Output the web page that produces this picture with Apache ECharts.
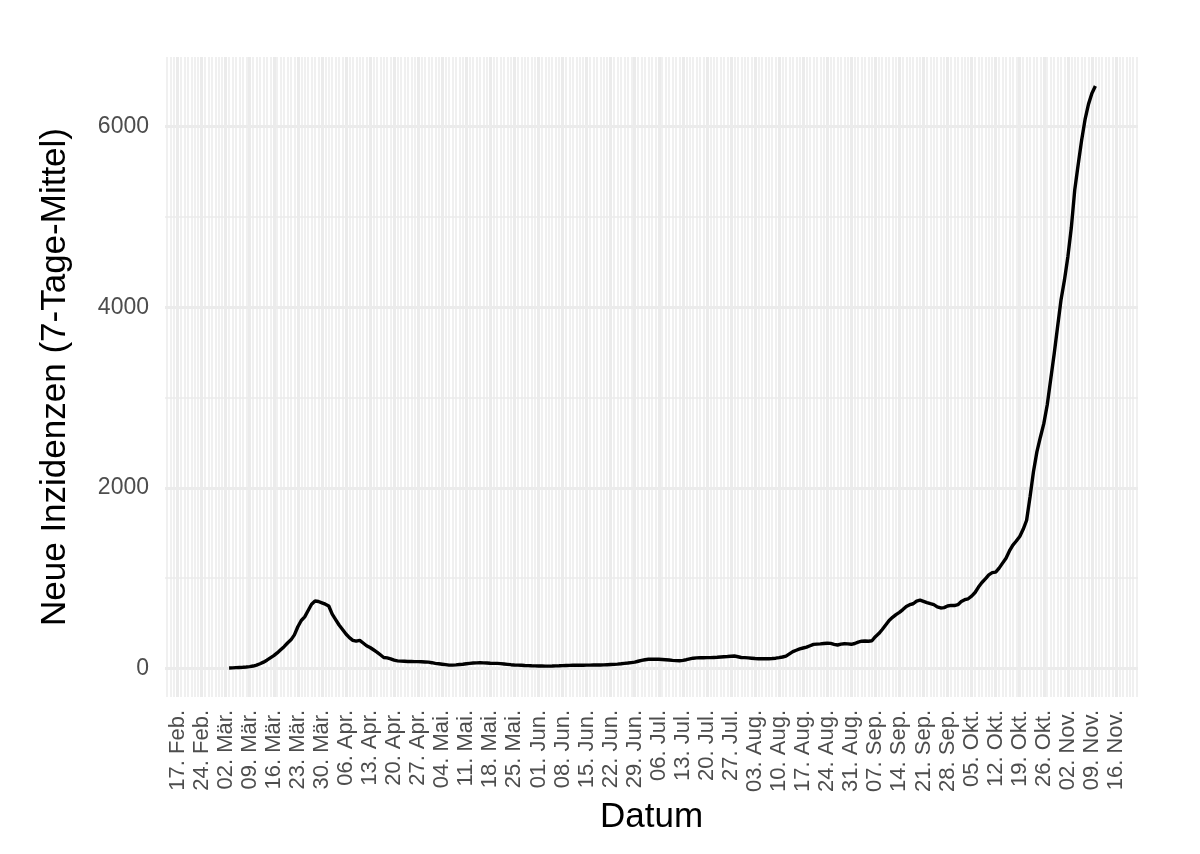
<!DOCTYPE html>
<html><head><meta charset="utf-8">
<script src="https://cdn.jsdelivr.net/npm/echarts@6/dist/echarts.min.js"></script>
<style>html,body{margin:0;padding:0;background:#fff}#c{width:1200px;height:854px}</style>
</head><body><div id="c"></div>
<script>
// ---- data ----
const startDate = '2020-03-03'; // first day with a 7-day mean
const values = [
4,5,7,9,11,14,18,25,35,50,68,90,115,140,170,205,240,280,315,370,
460,530,570,640,710,745,740,725,710,690,600,540,480,430,380,340,310,300,310,280,
250,230,205,180,150,120,115,105,90,82,80,78,76,75,74,74,72,70,68,62,
55,50,45,40,35,35,38,42,45,50,55,58,60,62,60,58,56,55,54,52,
48,44,40,37,35,33,31,30,28,27,26,25,24,24,25,27,28,30,31,32,
33,33,34,34,35,35,36,36,37,38,40,42,44,46,50,55,58,63,68,78,
88,95,100,102,100,100,98,95,92,88,85,83,88,95,105,112,115,116,117,118,
118,120,122,125,128,130,133,136,128,120,118,115,112,108,106,105,105,106,108,112,
118,125,135,160,185,200,215,225,235,250,265,268,270,275,278,276,265,258,268,272,
270,266,275,290,300,302,300,305,350,385,430,480,530,565,595,620,650,685,705,715,
745,756,742,728,716,705,680,668,672,690,697,695,705,740,760,770,800,840,900,950,
990,1035,1060,1066,1110,1165,1220,1300,1365,1410,1460,1540,1640,1900,2180,2400,2560,2710,2920,3200,
3480,3780,4080,4300,4560,4880,5300,5580,5850,6080,6250,6370,6450
];
const weekTickFirst = '2020-02-17';
const weekTickLast = '2020-11-16';
const monthNames = ['Jan.','Feb.','Mär.','Apr.','Mai.','Jun.','Jul.','Aug.','Sep.','Okt.','Nov.','Dez.'];
const yTicks = [0, 2000, 4000, 6000];
const yMinorTicks = [1000, 3000, 5000];

// ---- helpers ----
const DAY = 86400000;
const origin = Date.UTC(2020, 1, 13);
const dayOf = s => (Date.parse(s + 'T00:00:00Z') - origin) / DAY;
const xMin = 0.36, xMax = 283.4;
const yMin = -318, yMax = 6772;

const weekTicks = [];
for (let d = dayOf(weekTickFirst); d <= dayOf(weekTickLast); d += 7) weekTicks.push(d);
const dayTicks = [];
for (let d = Math.ceil(xMin); d <= xMax; d++) dayTicks.push(d);

const s0 = dayOf(startDate);
const seriesData = values.map((v, i) => [s0 + i, v]);

const fmt = v => {
  const dt = new Date(origin + Math.round(v) * DAY);
  const dd = String(dt.getUTCDate()).padStart(2, '0');
  return dd + '. ' + monthNames[dt.getUTCMonth()];
};

const FONT = '"Liberation Sans", Arial, Helvetica, sans-serif';
const GRID = '#EBEBEB';

const chart = echarts.init(document.getElementById('c'), null, {renderer: 'canvas'});
chart.setOption({
  animation: false,
  backgroundColor: '#fff',
  grid: {left: 165, right: 62, top: 57, bottom: 157, containLabel: false},
  xAxis: [{
    type: 'value', min: xMin, max: xMax,
    axisLine: {show: false},
    axisTick: {show: false, customValues: weekTicks},
    axisLabel: {customValues: weekTicks, rotate: 90, formatter: fmt, color: '#4D4D4D',
      fontSize: 22, fontFamily: FONT, margin: 13},
    splitLine: {show: true, lineStyle: {color: GRID, width: 3}},
    name: 'Datum', nameLocation: 'middle', nameGap: 102,
    nameTextStyle: {color: '#000', fontSize: 35, fontFamily: FONT}
  }, {
    type: 'value', min: xMin, max: xMax, position: 'top',
    axisLine: {show: false},
    axisTick: {show: false, customValues: dayTicks},
    axisLabel: {show: false, customValues: dayTicks},
    splitLine: {show: true, lineStyle: {color: GRID, width: 1.5}}
  }],
  yAxis: [{
    type: 'value', min: yMin, max: yMax,
    axisLine: {show: false},
    axisTick: {show: false, customValues: yTicks},
    axisLabel: {customValues: yTicks, formatter: v => String(v), color: '#4D4D4D',
      fontSize: 23, fontFamily: FONT, margin: 16},
    splitLine: {show: true, lineStyle: {color: GRID, width: 3}},
    name: 'Neue Inzidenzen (7-Tage-Mittel)', nameLocation: 'middle', nameGap: 92, nameRotate: 90,
    nameTextStyle: {color: '#000', fontSize: 35, fontFamily: FONT}
  }, {
    type: 'value', min: yMin, max: yMax, position: 'right',
    axisLine: {show: false},
    axisTick: {show: false, customValues: yMinorTicks},
    axisLabel: {show: false, customValues: yMinorTicks},
    splitLine: {show: true, lineStyle: {color: GRID, width: 1.5}}
  }],
  series: [{
    type: 'line', xAxisIndex: 0, yAxisIndex: 0,
    data: seriesData, showSymbol: false, symbol: 'none',
    lineStyle: {color: '#000', width: 3.4}, z: 10
  }]
});
</script>
</body></html>
